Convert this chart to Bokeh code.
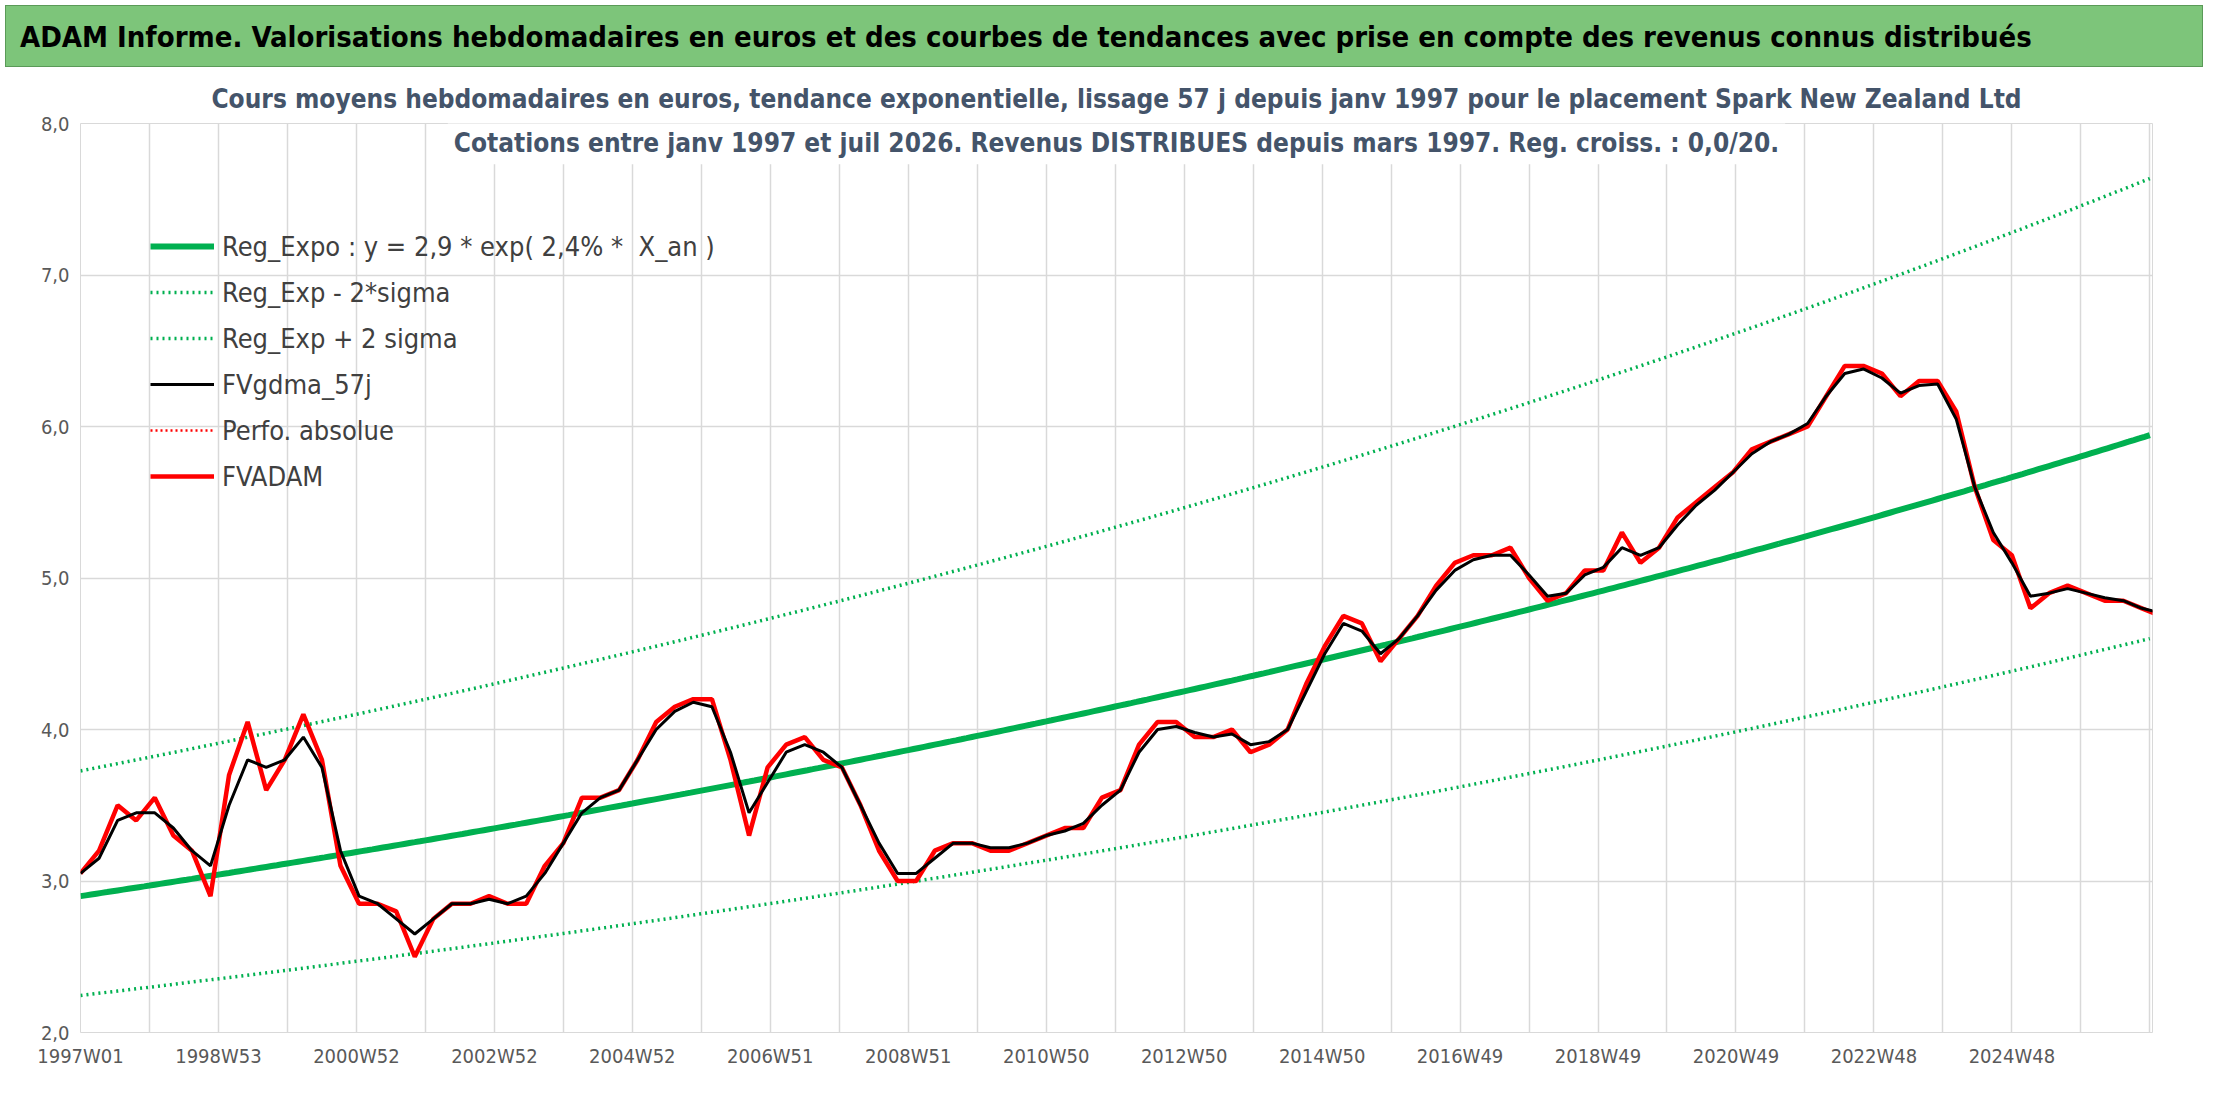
import numpy as np
from bokeh.plotting import figure
from bokeh.models import Div, Label, Legend, LegendItem, FixedTicker, CustomJSTickFormatter
from bokeh.layouts import column
from bokeh.embed import file_html
from bokeh.resources import INLINE

FONT = "DejaVu Sans Condensed"

# weekly index, one point every 14 weeks
red_vals = [3.05, 3.2, 3.5, 3.4, 3.55, 3.3, 3.2, 2.9, 3.7, 4.05, 3.6, 3.8, 4.1, 3.8, 3.1,
            2.85, 2.85, 2.8, 2.5, 2.75, 2.85, 2.85, 2.9, 2.85, 2.85, 3.1, 3.25, 3.55, 3.55, 3.6,
            3.8, 4.05, 4.15, 4.2, 4.2, 3.8, 3.3, 3.75, 3.9, 3.95, 3.8, 3.75, 3.5, 3.2, 3.0,
            3.0, 3.2, 3.25, 3.25, 3.2, 3.2, 3.25, 3.3, 3.35, 3.35, 3.55, 3.6, 3.9, 4.05, 4.05,
            3.95, 3.95, 4.0, 3.85, 3.9, 4.0, 4.3, 4.55, 4.75, 4.7, 4.45, 4.6, 4.75, 4.95, 5.1,
            5.15, 5.15, 5.2, 5.0, 4.85, 4.9, 5.05, 5.05, 5.3, 5.1, 5.2, 5.4, 5.5, 5.6, 5.7,
            5.85, 5.9, 5.95, 6.0, 6.2, 6.4, 6.4, 6.35, 6.2, 6.3, 6.3, 6.1, 5.6, 5.25, 5.15,
            4.8, 4.9, 4.95, 4.9, 4.85, 4.85, 4.8, 4.75]
black_vals = [3.05, 3.15, 3.4, 3.45, 3.45, 3.35, 3.2, 3.1, 3.5, 3.8, 3.75, 3.8, 3.95, 3.75, 3.2,
              2.9, 2.85, 2.75, 2.65, 2.75, 2.85, 2.85, 2.88, 2.85, 2.9, 3.05, 3.25, 3.45, 3.55, 3.6,
              3.8, 4.0, 4.12, 4.18, 4.15, 3.85, 3.45, 3.65, 3.85, 3.9, 3.85, 3.75, 3.5, 3.25, 3.05,
              3.05, 3.15, 3.25, 3.25, 3.22, 3.22, 3.25, 3.3, 3.33, 3.38, 3.5, 3.6, 3.85, 4.0, 4.02,
              3.98, 3.95, 3.97, 3.9, 3.92, 4.0, 4.25, 4.5, 4.7, 4.65, 4.5, 4.6, 4.75, 4.92, 5.05,
              5.12, 5.15, 5.15, 5.02, 4.88, 4.9, 5.02, 5.07, 5.2, 5.15, 5.2, 5.35, 5.48, 5.58, 5.7,
              5.82, 5.9, 5.95, 6.02, 6.2, 6.35, 6.38, 6.32, 6.22, 6.27, 6.28, 6.05, 5.6, 5.3, 5.1,
              4.88, 4.9, 4.93, 4.9, 4.87, 4.85, 4.8, 4.77]
data_weeks = [i * 14 for i in range(len(red_vals))]

tick_labels = ["1997W01", "1998W53", "2000W52", "2002W52", "2004W52", "2006W51", "2008W51",
               "2010W50", "2012W50", "2014W50", "2016W49", "2018W49", "2020W49", "2022W48", "2024W48"]
tick_weeks = [i * 104 for i in range(len(tick_labels))]
grid_weeks = [i * 52 for i in range(31)]

end_week = 1562
reg_a, reg_b = 2.9, 0.024
sig_up, sig_lo = 1.285, 0.774

tw = np.arange(0, end_week + 1, 4)
reg = reg_a * np.exp(reg_b * tw / 52.18)

header = Div(text="ADAM Informe. Valorisations hebdomadaires en euros et des courbes de tendances avec prise en compte des revenus connus distribués",
             width=2198, height=62,
             styles={"background-color": "#7dc57a", "font-family": FONT, "font-weight": "bold",
                     "font-size": "29px", "color": "black", "padding-left": "14px",
                     "line-height": "62px", "white-space": "nowrap", "overflow": "hidden",
                     "box-sizing": "border-box", "border": "1px solid #5a9a58"})

p = figure(width=2200, height=1000, output_backend="svg", toolbar_location=None,
           x_range=(0, end_week), y_range=(2, 8), min_border_left=80, min_border_right=48,
           min_border_bottom=40, min_border_top=10,
           title="Cours moyens hebdomadaires en euros, tendance exponentielle, lissage 57 j depuis janv 1997 pour le placement Spark New Zealand Ltd")
p.title.align = "center"
p.title.text_font = FONT
p.title.text_font_size = "26px"
p.title.text_font_style = "bold"
p.title.text_color = "#44546a"
p.title.standoff = 19
p.outline_line_color = "#d9d9d9"

p.xaxis.ticker = FixedTicker(ticks=tick_weeks)
p.xaxis.major_label_overrides = {w: l for w, l in zip(tick_weeks, tick_labels)}
p.yaxis.ticker = FixedTicker(ticks=[2, 3, 4, 5, 6, 7, 8])
p.yaxis.formatter = CustomJSTickFormatter(code="return tick.toFixed(1).replace('.', ',');")
for ax in (p.xaxis, p.yaxis):
    ax.major_label_text_font = FONT
    ax.major_label_text_font_size = "20px"
    ax.major_label_text_color = "#595959"
    ax.axis_line_color = None
    ax.major_tick_line_color = None
    ax.minor_tick_line_color = None
p.xgrid.ticker = FixedTicker(ticks=grid_weeks)
p.xgrid.grid_line_color = "#d9d9d9"
p.ygrid.grid_line_color = "#d9d9d9"
p.xgrid.grid_line_width = 1.5
p.ygrid.grid_line_width = 1.5

p.add_layout(Label(x=end_week / 2, y=7.87, text="Cotations entre janv 1997 et juil 2026. Revenus DISTRIBUES depuis mars 1997. Reg. croiss. : 0,0/20.",
                   text_align="center", text_baseline="middle",
                   text_font=FONT, text_font_size="26px", text_font_style="bold",
                   text_color="#44546a", background_fill_color="white", padding=6))

r1 = p.line(tw, reg, line_color="#00b050", line_width=6)
r2 = p.line(tw, reg * sig_lo, line_color="#00b050", line_width=3.5, line_dash="2 4")
r3 = p.line(tw, reg * sig_up, line_color="#00b050", line_width=3.5, line_dash="2 4")
r6 = p.line(data_weeks, red_vals, line_color="#ff0000", line_width=4.5)
r4 = p.line(data_weeks, black_vals, line_color="black", line_width=3)
r5 = p.line([0, 1], [-10, -10], line_color="#ff0000", line_width=2.5, line_dash="2 3")

legend = Legend(items=[LegendItem(label="Reg_Expo : y = 2,9 * exp( 2,4% *  X_an )", renderers=[r1]),
                       LegendItem(label="Reg_Exp - 2*sigma", renderers=[r2]),
                       LegendItem(label="Reg_Exp + 2 sigma", renderers=[r3]),
                       LegendItem(label="FVgdma_57j", renderers=[r4]),
                       LegendItem(label="Perfo. absolue", renderers=[r5]),
                       LegendItem(label="FVADAM", renderers=[r6])],
                location=(70, 533), border_line_color=None, background_fill_alpha=0,
                label_text_font=FONT, label_text_font_size="27px", label_text_color="#404040",
                glyph_width=64, spacing=0, label_height=46, glyph_height=46,
                label_standoff=8, margin=0, padding=0)
p.add_layout(legend)

out = column(header, p, spacing=0)
open("out.html", "w").write(file_html(out, INLINE))
